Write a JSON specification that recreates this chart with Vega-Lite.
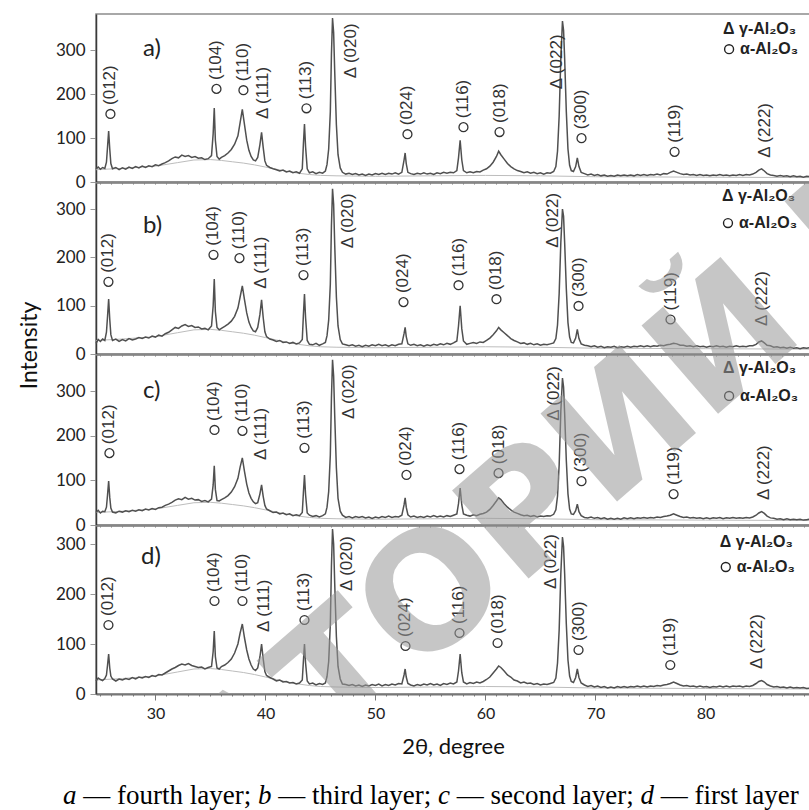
{
  "$schema": "https://vega.github.io/schema/vega-lite/v6.json",
  "padding": {"left": 17, "top": 13, "right": 0, "bottom": 0},
  "bounds": "flush",
  "spacing": 1,
  "config": {
    "view": {"stroke": "#8c8c8c", "strokeWidth": 1.5},
    "axis": {"grid": false, "labelFont": "Lato", "titleFont": "Lato", "labelColor": "#222", "titleColor": "#111", "titleFontWeight": "normal"},
    "axisY": {"domainColor": "#3a3a3a", "domainWidth": 1.5, "tickColor": "#999", "tickSize": 6, "labelPadding": 5, "labelFontSize": 17},
    "axisX": {"domainColor": "#777", "domainWidth": 2, "tickColor": "#777", "tickSize": 2, "labelFontSize": 16, "labelPadding": 5},
    "text": {"font": "Liberation Sans"}
  },
  "datasets": {
    "xrd": [
      {"x":24.6,"a":30,"b":22,"c":28,"d":26},{"x":24.8,"a":34,"b":30,"c":33,"d":32},{"x":25.0,"a":29,"b":26,"c":27,"d":29},
      {"x":25.2,"a":33,"b":31,"c":31,"d":27},{"x":25.4,"a":31,"b":28,"c":30,"d":31},{"x":25.55,"a":45,"b":45,"c":40,"d":38},
      {"x":25.65,"a":80,"b":78,"c":68,"d":58},{"x":25.75,"a":116,"b":114,"c":99,"d":80},{"x":25.85,"a":75,"b":72,"c":62,"d":52},
      {"x":25.95,"a":42,"b":40,"c":38,"d":36},{"x":26.1,"a":30,"b":28,"c":29,"d":30},{"x":26.4,"a":33,"b":31,"c":27,"d":26},
      {"x":26.7,"a":28,"b":26,"c":31,"d":30},{"x":27.0,"a":32,"b":30,"c":29,"d":28},{"x":27.3,"a":29,"b":27,"c":32,"d":31},
      {"x":27.6,"a":34,"b":32,"c":30,"d":29},{"x":27.9,"a":31,"b":29,"c":33,"d":33},{"x":28.2,"a":35,"b":31,"c":31,"d":30},
      {"x":28.5,"a":32,"b":34,"c":34,"d":34},{"x":28.8,"a":36,"b":32,"c":32,"d":32},{"x":29.1,"a":33,"b":35,"c":36,"d":35},
      {"x":29.4,"a":37,"b":33,"c":34,"d":33},{"x":29.7,"a":35,"b":37,"c":37,"d":37},{"x":30.0,"a":39,"b":35,"c":35,"d":35},
      {"x":30.3,"a":37,"b":39,"c":39,"d":39},{"x":30.6,"a":41,"b":37,"c":40,"d":38},{"x":30.9,"a":44,"b":42,"c":44,"d":42},
      {"x":31.2,"a":48,"b":45,"c":47,"d":46},{"x":31.5,"a":53,"b":50,"c":51,"d":50},{"x":31.8,"a":57,"b":55,"c":56,"d":53},
      {"x":32.1,"a":55,"b":53,"c":59,"d":57},{"x":32.4,"a":61,"b":58,"c":57,"d":60},{"x":32.7,"a":58,"b":61,"c":62,"d":58},
      {"x":33.0,"a":60,"b":57,"c":58,"d":61},{"x":33.3,"a":56,"b":59,"c":60,"d":57},{"x":33.6,"a":58,"b":55,"c":56,"d":55},
      {"x":33.9,"a":54,"b":56,"c":57,"d":53},{"x":34.2,"a":55,"b":52,"c":53,"d":54},{"x":34.5,"a":51,"b":53,"c":55,"d":50},
      {"x":34.8,"a":53,"b":50,"c":52,"d":53},{"x":35.1,"a":60,"b":58,"c":58,"d":55},{"x":35.25,"a":110,"b":100,"c":90,"d":85},
      {"x":35.35,"a":168,"b":155,"c":133,"d":126},{"x":35.45,"a":95,"b":88,"c":80,"d":75},{"x":35.6,"a":58,"b":55,"c":55,"d":52},
      {"x":35.8,"a":52,"b":50,"c":54,"d":50},{"x":36.0,"a":56,"b":53,"c":57,"d":55},{"x":36.3,"a":60,"b":57,"c":61,"d":58},
      {"x":36.6,"a":66,"b":62,"c":66,"d":63},{"x":36.9,"a":74,"b":68,"c":74,"d":70},{"x":37.2,"a":86,"b":78,"c":86,"d":82},
      {"x":37.5,"a":105,"b":95,"c":105,"d":100},{"x":37.7,"a":135,"b":118,"c":130,"d":122},{"x":37.9,"a":165,"b":141,"c":151,"d":140},
      {"x":38.1,"a":130,"b":112,"c":120,"d":112},{"x":38.3,"a":95,"b":85,"c":92,"d":88},{"x":38.5,"a":72,"b":66,"c":72,"d":70},
      {"x":38.7,"a":58,"b":55,"c":60,"d":58},{"x":38.9,"a":50,"b":48,"c":52,"d":50},{"x":39.1,"a":48,"b":46,"c":48,"d":47},
      {"x":39.3,"a":56,"b":55,"c":50,"d":52},{"x":39.5,"a":85,"b":82,"c":70,"d":74},{"x":39.65,"a":113,"b":112,"c":90,"d":100},
      {"x":39.8,"a":78,"b":75,"c":64,"d":70},{"x":39.95,"a":48,"b":46,"c":44,"d":45},{"x":40.1,"a":38,"b":36,"c":36,"d":37},
      {"x":40.4,"a":33,"b":31,"c":32,"d":33},{"x":40.7,"a":30,"b":29,"c":28,"d":30},{"x":41.0,"a":28,"b":26,"c":29,"d":26},
      {"x":41.3,"a":25,"b":28,"c":25,"d":28},{"x":41.6,"a":27,"b":24,"c":27,"d":24},{"x":41.9,"a":23,"b":25,"c":23,"d":25},
      {"x":42.2,"a":25,"b":22,"c":25,"d":22},{"x":42.5,"a":21,"b":24,"c":21,"d":23},{"x":42.8,"a":23,"b":21,"c":23,"d":20},
      {"x":43.1,"a":20,"b":23,"c":21,"d":22},{"x":43.35,"a":30,"b":30,"c":28,"d":28},{"x":43.45,"a":85,"b":80,"c":72,"d":65},
      {"x":43.55,"a":132,"b":124,"c":112,"d":100},{"x":43.65,"a":80,"b":75,"c":68,"d":62},{"x":43.8,"a":30,"b":28,"c":27,"d":26},
      {"x":44.0,"a":21,"b":20,"c":22,"d":20},{"x":44.3,"a":23,"b":19,"c":19,"d":22},{"x":44.6,"a":19,"b":22,"c":21,"d":18},
      {"x":44.9,"a":22,"b":18,"c":18,"d":21},{"x":45.2,"a":20,"b":21,"c":21,"d":19},{"x":45.45,"a":25,"b":24,"c":25,"d":22},
      {"x":45.6,"a":40,"b":38,"c":40,"d":35},{"x":45.75,"a":75,"b":70,"c":75,"d":65},{"x":45.9,"a":160,"b":145,"c":158,"d":140},
      {"x":46.0,"a":290,"b":265,"c":285,"d":255},{"x":46.1,"a":373,"b":342,"c":371,"d":330},{"x":46.2,"a":340,"b":310,"c":335,"d":300},
      {"x":46.3,"a":250,"b":225,"c":245,"d":220},{"x":46.45,"a":130,"b":118,"c":128,"d":115},{"x":46.6,"a":62,"b":58,"c":60,"d":55},
      {"x":46.8,"a":32,"b":30,"c":31,"d":30},{"x":47.0,"a":22,"b":21,"c":22,"d":20},{"x":47.3,"a":18,"b":19,"c":17,"d":19},
      {"x":47.6,"a":20,"b":17,"c":19,"d":17},{"x":47.9,"a":17,"b":19,"c":16,"d":19},{"x":48.2,"a":19,"b":16,"c":19,"d":16},
      {"x":48.5,"a":16,"b":18,"c":17,"d":18},{"x":48.8,"a":18,"b":15,"c":19,"d":15},{"x":49.1,"a":15,"b":18,"c":16,"d":18},
      {"x":49.4,"a":18,"b":16,"c":18,"d":16},{"x":49.7,"a":16,"b":19,"c":15,"d":19},{"x":50.0,"a":19,"b":17,"c":18,"d":17},
      {"x":50.3,"a":17,"b":20,"c":16,"d":20},{"x":50.6,"a":20,"b":17,"c":19,"d":16},{"x":50.9,"a":17,"b":19,"c":17,"d":19},
      {"x":51.2,"a":20,"b":16,"c":20,"d":17},{"x":51.5,"a":18,"b":19,"c":17,"d":20},{"x":51.8,"a":21,"b":17,"c":19,"d":18},
      {"x":52.1,"a":18,"b":20,"c":18,"d":21},{"x":52.4,"a":22,"b":21,"c":22,"d":20},{"x":52.6,"a":50,"b":42,"c":45,"d":38},
      {"x":52.7,"a":66,"b":55,"c":61,"d":50},{"x":52.8,"a":42,"b":36,"c":40,"d":34},{"x":52.95,"a":22,"b":21,"c":23,"d":21},
      {"x":53.2,"a":19,"b":18,"c":18,"d":18},{"x":53.5,"a":17,"b":20,"c":20,"d":16},{"x":53.8,"a":20,"b":17,"c":17,"d":19},
      {"x":54.1,"a":18,"b":19,"c":19,"d":17},{"x":54.4,"a":21,"b":16,"c":17,"d":20},{"x":54.7,"a":18,"b":19,"c":20,"d":18},
      {"x":55.0,"a":20,"b":17,"c":18,"d":21},{"x":55.3,"a":17,"b":20,"c":21,"d":18},{"x":55.6,"a":21,"b":18,"c":18,"d":20},
      {"x":55.9,"a":19,"b":21,"c":20,"d":17},{"x":56.2,"a":22,"b":19,"c":18,"d":21},{"x":56.5,"a":20,"b":22,"c":21,"d":19},
      {"x":56.8,"a":22,"b":20,"c":19,"d":22},{"x":57.1,"a":21,"b":23,"c":22,"d":20},{"x":57.4,"a":26,"b":27,"c":25,"d":24},
      {"x":57.55,"a":55,"b":58,"c":48,"d":46},{"x":57.7,"a":95,"b":100,"c":83,"d":80},{"x":57.85,"a":50,"b":52,"c":45,"d":42},
      {"x":58.0,"a":26,"b":27,"c":25,"d":24},{"x":58.3,"a":21,"b":20,"c":22,"d":20},{"x":58.6,"a":23,"b":22,"c":20,"d":23},
      {"x":58.9,"a":21,"b":24,"c":23,"d":21},{"x":59.2,"a":24,"b":22,"c":21,"d":24},{"x":59.5,"a":23,"b":25,"c":24,"d":22},
      {"x":59.8,"a":27,"b":24,"c":26,"d":25},{"x":60.1,"a":30,"b":28,"c":29,"d":29},{"x":60.4,"a":36,"b":33,"c":35,"d":34},
      {"x":60.7,"a":45,"b":40,"c":44,"d":42},{"x":61.0,"a":58,"b":48,"c":54,"d":50},{"x":61.2,"a":70,"b":55,"c":61,"d":56},
      {"x":61.4,"a":62,"b":50,"c":57,"d":53},{"x":61.7,"a":52,"b":44,"c":48,"d":46},{"x":62.0,"a":42,"b":38,"c":40,"d":38},
      {"x":62.3,"a":35,"b":32,"c":34,"d":34},{"x":62.6,"a":30,"b":28,"c":29,"d":28},{"x":62.9,"a":26,"b":25,"c":26,"d":26},
      {"x":63.2,"a":24,"b":22,"c":23,"d":22},{"x":63.5,"a":21,"b":23,"c":21,"d":24},{"x":63.8,"a":23,"b":20,"c":22,"d":21},
      {"x":64.1,"a":20,"b":22,"c":19,"d":22},{"x":64.4,"a":22,"b":19,"c":21,"d":19},{"x":64.7,"a":19,"b":21,"c":18,"d":21},
      {"x":65.0,"a":21,"b":18,"c":20,"d":18},{"x":65.3,"a":18,"b":20,"c":19,"d":20},{"x":65.6,"a":21,"b":19,"c":21,"d":19},
      {"x":65.9,"a":20,"b":21,"c":20,"d":21},{"x":66.2,"a":24,"b":23,"c":24,"d":23},{"x":66.4,"a":35,"b":32,"c":34,"d":32},
      {"x":66.55,"a":70,"b":60,"c":65,"d":62},{"x":66.7,"a":150,"b":125,"c":135,"d":128},{"x":66.85,"a":280,"b":230,"c":255,"d":240},
      {"x":67.0,"a":366,"b":300,"c":330,"d":314},{"x":67.1,"a":345,"b":285,"c":310,"d":295},{"x":67.2,"a":280,"b":230,"c":250,"d":240},
      {"x":67.35,"a":160,"b":135,"c":145,"d":140},{"x":67.5,"a":75,"b":65,"c":70,"d":68},{"x":67.65,"a":38,"b":35,"c":36,"d":36},
      {"x":67.8,"a":26,"b":24,"c":25,"d":25},{"x":68.0,"a":24,"b":23,"c":24,"d":23},{"x":68.2,"a":35,"b":33,"c":32,"d":33},
      {"x":68.35,"a":55,"b":51,"c":47,"d":50},{"x":68.5,"a":35,"b":32,"c":30,"d":33},{"x":68.7,"a":22,"b":21,"c":21,"d":22},
      {"x":69.0,"a":19,"b":18,"c":17,"d":18},{"x":69.3,"a":16,"b":17,"c":16,"d":15},{"x":69.6,"a":18,"b":15,"c":18,"d":17},
      {"x":69.9,"a":15,"b":17,"c":15,"d":14},{"x":70.2,"a":17,"b":14,"c":17,"d":16},{"x":70.5,"a":14,"b":16,"c":14,"d":13},
      {"x":70.8,"a":16,"b":13,"c":16,"d":15},{"x":71.1,"a":13,"b":15,"c":13,"d":12},{"x":71.4,"a":15,"b":14,"c":15,"d":14},
      {"x":71.7,"a":13,"b":16,"c":13,"d":12},{"x":72.0,"a":16,"b":13,"c":15,"d":15},{"x":72.3,"a":14,"b":15,"c":13,"d":13},
      {"x":72.6,"a":16,"b":14,"c":16,"d":15},{"x":72.9,"a":14,"b":16,"c":14,"d":13},{"x":73.2,"a":16,"b":14,"c":16,"d":15},
      {"x":73.5,"a":14,"b":16,"c":14,"d":14},{"x":73.8,"a":17,"b":15,"c":16,"d":16},{"x":74.1,"a":15,"b":17,"c":15,"d":14},
      {"x":74.4,"a":17,"b":15,"c":17,"d":16},{"x":74.7,"a":15,"b":17,"c":15,"d":14},{"x":75.0,"a":17,"b":15,"c":17,"d":16},
      {"x":75.3,"a":16,"b":17,"c":16,"d":15},{"x":75.6,"a":18,"b":16,"c":18,"d":17},{"x":75.9,"a":16,"b":18,"c":17,"d":16},
      {"x":76.2,"a":19,"b":17,"c":19,"d":18},{"x":76.5,"a":18,"b":19,"c":20,"d":19},{"x":76.8,"a":22,"b":20,"c":22,"d":21},
      {"x":77.1,"a":25,"b":22,"c":25,"d":24},{"x":77.4,"a":22,"b":21,"c":22,"d":21},{"x":77.7,"a":19,"b":18,"c":19,"d":18},
      {"x":78.0,"a":17,"b":18,"c":17,"d":16},{"x":78.3,"a":18,"b":16,"c":18,"d":17},{"x":78.6,"a":16,"b":17,"c":16,"d":15},
      {"x":78.9,"a":17,"b":15,"c":17,"d":16},{"x":79.2,"a":15,"b":17,"c":15,"d":14},{"x":79.5,"a":17,"b":15,"c":16,"d":16},
      {"x":79.8,"a":15,"b":16,"c":14,"d":14},{"x":80.1,"a":16,"b":14,"c":16,"d":15},{"x":80.4,"a":14,"b":16,"c":14,"d":13},
      {"x":80.7,"a":16,"b":15,"c":16,"d":15},{"x":81.0,"a":15,"b":17,"c":15,"d":14},{"x":81.3,"a":17,"b":15,"c":17,"d":16},
      {"x":81.6,"a":15,"b":16,"c":14,"d":14},{"x":81.9,"a":16,"b":14,"c":16,"d":16},{"x":82.2,"a":14,"b":16,"c":15,"d":14},
      {"x":82.5,"a":16,"b":15,"c":17,"d":16},{"x":82.8,"a":15,"b":17,"c":15,"d":15},{"x":83.1,"a":17,"b":15,"c":16,"d":16},
      {"x":83.4,"a":15,"b":16,"c":15,"d":14},{"x":83.7,"a":17,"b":15,"c":17,"d":16},{"x":84.0,"a":16,"b":17,"c":16,"d":15},
      {"x":84.3,"a":18,"b":17,"c":18,"d":17},{"x":84.6,"a":22,"b":20,"c":22,"d":21},{"x":84.85,"a":27,"b":25,"c":27,"d":25},
      {"x":85.1,"a":30,"b":27,"c":30,"d":27},{"x":85.35,"a":25,"b":23,"c":26,"d":24},{"x":85.6,"a":19,"b":18,"c":20,"d":19},
      {"x":85.9,"a":16,"b":17,"c":16,"d":16},{"x":86.2,"a":15,"b":14,"c":15,"d":14},{"x":86.5,"a":13,"b":15,"c":13,"d":15},
      {"x":86.8,"a":15,"b":13,"c":14,"d":13},{"x":87.1,"a":13,"b":14,"c":12,"d":14},{"x":87.4,"a":14,"b":12,"c":14,"d":12},
      {"x":87.7,"a":12,"b":14,"c":12,"d":14},{"x":88.0,"a":14,"b":12,"c":13,"d":12},{"x":88.3,"a":12,"b":13,"c":12,"d":13},
      {"x":88.6,"a":13,"b":11,"c":13,"d":12},{"x":88.9,"a":11,"b":13,"c":11,"d":13},{"x":89.2,"a":13,"b":12,"c":12,"d":11},
      {"x":89.5,"a":12,"b":13,"c":13,"d":12}
    ],
    "bg": [
      {"x":24.6,"y":28},{"x":27,"y":31},{"x":30,"y":36},{"x":32,"y":44},{"x":33.5,"y":50},{"x":35,"y":51},
      {"x":36,"y":49},{"x":37,"y":46},{"x":38,"y":43},{"x":39,"y":39},{"x":40,"y":34},{"x":41,"y":29},
      {"x":42,"y":24},{"x":43,"y":20},{"x":44,"y":17},{"x":45,"y":15},{"x":46.5,"y":14},{"x":50,"y":13},
      {"x":55,"y":14},{"x":60,"y":15},{"x":65,"y":14},{"x":70,"y":12},{"x":80,"y":11},{"x":89.5,"y":10}
    ],
    "peaks": [
      {"panel":"a","phase":"alpha","x":25.91,"y":141,"label":"(012)"},{"panel":"a","phase":"alpha","x":35.55,"y":198,"label":"(104)"},
      {"panel":"a","phase":"alpha","x":38.0,"y":195,"label":"(110)"},{"panel":"a","phase":"gamma","x":39.82,"y":143,"label":"Δ (111)"},
      {"panel":"a","phase":"alpha","x":43.73,"y":154,"label":"(113)"},{"panel":"a","phase":"gamma","x":47.82,"y":236,"label":"Δ (020)"},
      {"panel":"a","phase":"alpha","x":52.91,"y":95,"label":"(024)"},{"panel":"a","phase":"alpha","x":58.0,"y":111,"label":"(116)"},
      {"panel":"a","phase":"alpha","x":61.28,"y":100,"label":"(018)"},{"panel":"a","phase":"gamma","x":66.46,"y":211,"label":"Δ (022)"},
      {"panel":"a","phase":"alpha","x":68.73,"y":86,"label":"(300)"},{"panel":"a","phase":"alpha","x":77.19,"y":55,"label":"(119)"},
      {"panel":"a","phase":"gamma","x":85.37,"y":55,"label":"Δ (222)"},
      {"panel":"b","phase":"alpha","x":25.73,"y":137,"label":"(012)"},{"panel":"b","phase":"alpha","x":35.28,"y":193,"label":"(104)"},
      {"panel":"b","phase":"alpha","x":37.64,"y":186,"label":"(110)"},{"panel":"b","phase":"gamma","x":39.64,"y":135,"label":"Δ (111)"},
      {"panel":"b","phase":"alpha","x":43.46,"y":151,"label":"(113)"},{"panel":"b","phase":"gamma","x":47.55,"y":219,"label":"Δ (020)"},
      {"panel":"b","phase":"alpha","x":52.55,"y":95,"label":"(024)"},{"panel":"b","phase":"alpha","x":57.55,"y":130,"label":"(116)"},
      {"panel":"b","phase":"alpha","x":61.0,"y":101,"label":"(018)"},{"panel":"b","phase":"gamma","x":66.1,"y":220,"label":"Δ (022)"},
      {"panel":"b","phase":"alpha","x":68.46,"y":87,"label":"(300)"},{"panel":"b","phase":"alpha","x":76.82,"y":59,"label":"(119)"},
      {"panel":"b","phase":"gamma","x":85.1,"y":58,"label":"Δ (222)"},
      {"panel":"c","phase":"alpha","x":25.82,"y":148,"label":"(012)"},{"panel":"c","phase":"alpha","x":35.37,"y":200,"label":"(104)"},
      {"panel":"c","phase":"alpha","x":37.91,"y":198,"label":"(110)"},{"panel":"c","phase":"gamma","x":39.64,"y":146,"label":"Δ (111)"},
      {"panel":"c","phase":"alpha","x":43.55,"y":160,"label":"(113)"},{"panel":"c","phase":"gamma","x":47.64,"y":238,"label":"Δ (020)"},
      {"panel":"c","phase":"alpha","x":52.82,"y":99,"label":"(024)"},{"panel":"c","phase":"alpha","x":57.64,"y":112,"label":"(116)"},
      {"panel":"c","phase":"alpha","x":61.19,"y":103,"label":"(018)"},{"panel":"c","phase":"gamma","x":66.19,"y":234,"label":"Δ (022)"},
      {"panel":"c","phase":"alpha","x":68.73,"y":85,"label":"(300)"},{"panel":"c","phase":"alpha","x":77.1,"y":56,"label":"(119)"},
      {"panel":"c","phase":"gamma","x":85.28,"y":56,"label":"Δ (222)"},
      {"panel":"d","phase":"alpha","x":25.73,"y":126,"label":"(012)"},{"panel":"d","phase":"alpha","x":35.37,"y":174,"label":"(104)"},
      {"panel":"d","phase":"alpha","x":37.91,"y":174,"label":"(110)"},{"panel":"d","phase":"gamma","x":39.91,"y":124,"label":"Δ (111)"},
      {"panel":"d","phase":"alpha","x":43.55,"y":136,"label":"(113)"},{"panel":"d","phase":"gamma","x":47.37,"y":206,"label":"Δ (020)"},
      {"panel":"d","phase":"alpha","x":52.73,"y":84,"label":"(024)"},{"panel":"d","phase":"alpha","x":57.64,"y":110,"label":"(116)"},
      {"panel":"d","phase":"alpha","x":61.1,"y":90,"label":"(018)"},{"panel":"d","phase":"gamma","x":66.0,"y":210,"label":"Δ (022)"},
      {"panel":"d","phase":"alpha","x":68.46,"y":76,"label":"(300)"},{"panel":"d","phase":"alpha","x":76.8,"y":46,"label":"(119)"},
      {"panel":"d","phase":"gamma","x":84.64,"y":50,"label":"Δ (222)"}
    ],
    "legend": [
      {"panel":"a","phase":"gamma","x":81.6,"y":348,"text":"Δ γ-Al₂O₃"},{"panel":"a","phase":"alpha","x":81.6,"y":302,"text":"α-Al₂O₃"},
      {"panel":"b","phase":"gamma","x":81.5,"y":327,"text":"Δ γ-Al₂O₃"},{"panel":"b","phase":"alpha","x":81.5,"y":271,"text":"α-Al₂O₃"},
      {"panel":"c","phase":"gamma","x":81.6,"y":353,"text":"Δ γ-Al₂O₃"},{"panel":"c","phase":"alpha","x":81.6,"y":290,"text":"α-Al₂O₃"},
      {"panel":"d","phase":"gamma","x":81.3,"y":304,"text":"Δ γ-Al₂O₃"},{"panel":"d","phase":"alpha","x":81.3,"y":254,"text":"α-Al₂O₃"}
    ],
    "tags": [
      {"panel":"a","x":28.87,"y":302,"tag":"a)"},{"panel":"b","x":28.87,"y":265,"tag":"b)"},
      {"panel":"c","x":28.87,"y":301,"tag":"c)"},{"panel":"d","x":28.7,"y":274,"tag":"d)"}
    ],
    "watermark": [
      {"panel":"a","x":71.24,"y":-598,"t":"АТОРИЙ КА"},{"panel":"b","x":71.24,"y":-188,"t":"АТОРИЙ КА"},
      {"panel":"c","x":71.24,"y":180,"t":"АТОРИЙ КА"},{"panel":"d","x":71.24,"y":498,"t":"АТОРИЙ КА"}
    ],
    "captionLetters": [
      {"x":21.6,"y":-204,"t":"a"},{"x":39.33,"y":-204,"t":"b"},{"x":55.69,"y":-204,"t":"c"},{"x":74.1,"y":-204,"t":"d"}
    ],
    "captionWords": [
      {"x":23.44,"y":-204,"t":"— fourth layer;"},{"x":41.17,"y":-204,"t":"— third layer;"},
      {"x":57.4,"y":-204,"t":"— second layer;"},{"x":75.94,"y":-204,"t":"— first layer"}
    ]
  },
  "vconcat": [
    {
      "width": 714, "height": 168,
      "encoding": {
        "x": {"field": "x", "type": "quantitative", "scale": {"domain": [24.6, 89.5], "nice": false, "zero": false},
              "axis": {"values": [25,26,27,28,29,30,31,32,33,34,35,36,37,38,39,40,41,42,43,44,45,46,47,48,49,50,51,52,53,54,55,56,57,58,59,60,61,62,63,64,65,66,67,68,69,70,71,72,73,74,75,76,77,78,79,80,81,82,83,84,85,86,87,88,89], "labels": false, "title": null}},
        "y": {"field": "y", "type": "quantitative", "scale": {"domain": [0, 382], "nice": false}, "axis": {"values": [0,100,200,300], "title": null}}
      },
      "layer": [
        {"data": {"name": "bg"}, "mark": {"type": "line", "color": "#bdbdbd", "strokeWidth": 1}},
        {"data": {"name": "xrd"}, "transform": [{"fold": ["a"], "as": ["panel", "y"]}], "mark": {"type": "line", "color": "#505050", "strokeWidth": 1.5}},
        {"data": {"name": "peaks"}, "transform": [{"filter": "datum.panel == 'a' && datum.phase == 'gamma'"}], "mark": {"type": "text", "angle": 270, "align": "left", "baseline": "middle", "fontSize": 17, "color": "#333"}, "encoding": {"text": {"field": "label"}}},
        {"data": {"name": "peaks"}, "transform": [{"filter": "datum.panel == 'a' && datum.phase == 'alpha'"}], "mark": {"type": "text", "angle": 270, "align": "left", "baseline": "middle", "dx": 15, "fontSize": 17, "color": "#333"}, "encoding": {"text": {"field": "label"}}},
        {"data": {"name": "peaks"}, "transform": [{"filter": "datum.panel == 'a' && datum.phase == 'alpha'"}], "mark": {"type": "point", "shape": "circle", "filled": false, "size": 80, "strokeWidth": 1.3, "color": "#333", "yOffset": -6, "opacity": 1}},
        {"data": {"name": "legend"}, "transform": [{"filter": "datum.panel == 'a' && datum.phase == 'gamma'"}], "mark": {"type": "text", "align": "left", "baseline": "middle", "fontSize": 16, "fontWeight": "bold", "color": "#222"}, "encoding": {"text": {"field": "text"}}},
        {"data": {"name": "legend"}, "transform": [{"filter": "datum.panel == 'a' && datum.phase == 'alpha'"}], "mark": {"type": "text", "align": "left", "baseline": "middle", "dx": 17, "fontSize": 16, "fontWeight": "bold", "color": "#222"}, "encoding": {"text": {"field": "text"}}},
        {"data": {"name": "legend"}, "transform": [{"filter": "datum.panel == 'a' && datum.phase == 'alpha'"}], "mark": {"type": "point", "shape": "circle", "filled": false, "size": 80, "strokeWidth": 1.4, "color": "#222", "xOffset": 6, "opacity": 1}},
        {"data": {"name": "tags"}, "transform": [{"filter": "datum.panel == 'a'"}], "mark": {"type": "text", "align": "left", "baseline": "middle", "fontSize": 24, "font": "Lato", "color": "#222"}, "encoding": {"text": {"field": "tag"}}},
        {"data": {"name": "watermark"}, "transform": [{"filter": "datum.panel == 'a'"}], "mark": {"type": "text", "clip": true, "angle": -41, "align": "center", "baseline": "middle", "fontSize": 160, "font": "DejaVu Sans", "fontWeight": "bold", "color": "#999", "opacity": 0.55}, "encoding": {"text": {"field": "t"}}}
      ]
    },
    {
      "width": 714, "height": 171,
      "encoding": {
        "x": {"field": "x", "type": "quantitative", "scale": {"domain": [24.6, 89.5], "nice": false, "zero": false},
              "axis": {"values": [25,26,27,28,29,30,31,32,33,34,35,36,37,38,39,40,41,42,43,44,45,46,47,48,49,50,51,52,53,54,55,56,57,58,59,60,61,62,63,64,65,66,67,68,69,70,71,72,73,74,75,76,77,78,79,80,81,82,83,84,85,86,87,88,89], "labels": false, "title": null}},
        "y": {"field": "y", "type": "quantitative", "scale": {"domain": [0, 354], "nice": false},
              "axis": {"values": [0,100,200,300], "title": "Intensity", "titleFontSize": 23, "titleAngle": 270, "titleX": -67, "titleY": 162, "titleAlign": "center", "titleBaseline": "middle"}}
      },
      "layer": [
        {"data": {"name": "bg"}, "mark": {"type": "line", "color": "#bdbdbd", "strokeWidth": 1}},
        {"data": {"name": "xrd"}, "transform": [{"fold": ["b"], "as": ["panel", "y"]}], "mark": {"type": "line", "color": "#505050", "strokeWidth": 1.5}},
        {"data": {"name": "peaks"}, "transform": [{"filter": "datum.panel == 'b' && datum.phase == 'gamma'"}], "mark": {"type": "text", "angle": 270, "align": "left", "baseline": "middle", "fontSize": 17, "color": "#333"}, "encoding": {"text": {"field": "label"}}},
        {"data": {"name": "peaks"}, "transform": [{"filter": "datum.panel == 'b' && datum.phase == 'alpha'"}], "mark": {"type": "text", "angle": 270, "align": "left", "baseline": "middle", "dx": 15, "fontSize": 17, "color": "#333"}, "encoding": {"text": {"field": "label"}}},
        {"data": {"name": "peaks"}, "transform": [{"filter": "datum.panel == 'b' && datum.phase == 'alpha'"}], "mark": {"type": "point", "shape": "circle", "filled": false, "size": 80, "strokeWidth": 1.3, "color": "#333", "yOffset": -6, "opacity": 1}},
        {"data": {"name": "legend"}, "transform": [{"filter": "datum.panel == 'b' && datum.phase == 'gamma'"}], "mark": {"type": "text", "align": "left", "baseline": "middle", "fontSize": 16, "fontWeight": "bold", "color": "#222"}, "encoding": {"text": {"field": "text"}}},
        {"data": {"name": "legend"}, "transform": [{"filter": "datum.panel == 'b' && datum.phase == 'alpha'"}], "mark": {"type": "text", "align": "left", "baseline": "middle", "dx": 17, "fontSize": 16, "fontWeight": "bold", "color": "#222"}, "encoding": {"text": {"field": "text"}}},
        {"data": {"name": "legend"}, "transform": [{"filter": "datum.panel == 'b' && datum.phase == 'alpha'"}], "mark": {"type": "point", "shape": "circle", "filled": false, "size": 80, "strokeWidth": 1.4, "color": "#222", "xOffset": 6, "opacity": 1}},
        {"data": {"name": "tags"}, "transform": [{"filter": "datum.panel == 'b'"}], "mark": {"type": "text", "align": "left", "baseline": "middle", "fontSize": 24, "font": "Lato", "color": "#222"}, "encoding": {"text": {"field": "tag"}}},
        {"data": {"name": "watermark"}, "transform": [{"filter": "datum.panel == 'b'"}], "mark": {"type": "text", "clip": true, "angle": -41, "align": "center", "baseline": "middle", "fontSize": 160, "font": "DejaVu Sans", "fontWeight": "bold", "color": "#999", "opacity": 0.55}, "encoding": {"text": {"field": "t"}}}
      ]
    },
    {
      "width": 714, "height": 170,
      "encoding": {
        "x": {"field": "x", "type": "quantitative", "scale": {"domain": [24.6, 89.5], "nice": false, "zero": false},
              "axis": {"values": [25,26,27,28,29,30,31,32,33,34,35,36,37,38,39,40,41,42,43,44,45,46,47,48,49,50,51,52,53,54,55,56,57,58,59,60,61,62,63,64,65,66,67,68,69,70,71,72,73,74,75,76,77,78,79,80,81,82,83,84,85,86,87,88,89], "labels": false, "title": null}},
        "y": {"field": "y", "type": "quantitative", "scale": {"domain": [0, 382], "nice": false}, "axis": {"values": [0,100,200,300], "title": null}}
      },
      "layer": [
        {"data": {"name": "bg"}, "mark": {"type": "line", "color": "#bdbdbd", "strokeWidth": 1}},
        {"data": {"name": "xrd"}, "transform": [{"fold": ["c"], "as": ["panel", "y"]}], "mark": {"type": "line", "color": "#505050", "strokeWidth": 1.5}},
        {"data": {"name": "peaks"}, "transform": [{"filter": "datum.panel == 'c' && datum.phase == 'gamma'"}], "mark": {"type": "text", "angle": 270, "align": "left", "baseline": "middle", "fontSize": 17, "color": "#333"}, "encoding": {"text": {"field": "label"}}},
        {"data": {"name": "peaks"}, "transform": [{"filter": "datum.panel == 'c' && datum.phase == 'alpha'"}], "mark": {"type": "text", "angle": 270, "align": "left", "baseline": "middle", "dx": 15, "fontSize": 17, "color": "#333"}, "encoding": {"text": {"field": "label"}}},
        {"data": {"name": "peaks"}, "transform": [{"filter": "datum.panel == 'c' && datum.phase == 'alpha'"}], "mark": {"type": "point", "shape": "circle", "filled": false, "size": 80, "strokeWidth": 1.3, "color": "#333", "yOffset": -6, "opacity": 1}},
        {"data": {"name": "legend"}, "transform": [{"filter": "datum.panel == 'c' && datum.phase == 'gamma'"}], "mark": {"type": "text", "align": "left", "baseline": "middle", "fontSize": 16, "fontWeight": "bold", "color": "#222"}, "encoding": {"text": {"field": "text"}}},
        {"data": {"name": "legend"}, "transform": [{"filter": "datum.panel == 'c' && datum.phase == 'alpha'"}], "mark": {"type": "text", "align": "left", "baseline": "middle", "dx": 17, "fontSize": 16, "fontWeight": "bold", "color": "#222"}, "encoding": {"text": {"field": "text"}}},
        {"data": {"name": "legend"}, "transform": [{"filter": "datum.panel == 'c' && datum.phase == 'alpha'"}], "mark": {"type": "point", "shape": "circle", "filled": false, "size": 80, "strokeWidth": 1.4, "color": "#222", "xOffset": 6, "opacity": 1}},
        {"data": {"name": "tags"}, "transform": [{"filter": "datum.panel == 'c'"}], "mark": {"type": "text", "align": "left", "baseline": "middle", "fontSize": 24, "font": "Lato", "color": "#222"}, "encoding": {"text": {"field": "tag"}}},
        {"data": {"name": "watermark"}, "transform": [{"filter": "datum.panel == 'c'"}], "mark": {"type": "text", "clip": true, "angle": -41, "align": "center", "baseline": "middle", "fontSize": 160, "font": "DejaVu Sans", "fontWeight": "bold", "color": "#999", "opacity": 0.55}, "encoding": {"text": {"field": "t"}}}
      ]
    },
    {
      "width": 714, "height": 168,
      "encoding": {
        "x": {"field": "x", "type": "quantitative", "scale": {"domain": [24.6, 89.5], "nice": false, "zero": false},
              "axis": {"values": [25,26,27,28,29,30,31,32,33,34,35,36,37,38,39,40,41,42,43,44,45,46,47,48,49,50,51,52,53,54,55,56,57,58,59,60,61,62,63,64,65,66,67,68,69,70,71,72,73,74,75,76,77,78,79,80,81,82,83,84,85,86,87,88,89],
                       "labelExpr": "datum.value % 10 === 0 ? datum.label : ''",
                       "tickSize": {"condition": {"test": "datum.value % 10 === 0", "value": 6}, "value": 2},
                       "title": "2θ, degree", "titleFontSize": 22, "titlePadding": 15}},
        "y": {"field": "y", "type": "quantitative", "scale": {"domain": [0, 336], "nice": false}, "axis": {"values": [0,100,200,300], "title": null}}
      },
      "layer": [
        {"data": {"name": "bg"}, "mark": {"type": "line", "color": "#bdbdbd", "strokeWidth": 1}},
        {"data": {"name": "xrd"}, "transform": [{"fold": ["d"], "as": ["panel", "y"]}], "mark": {"type": "line", "color": "#505050", "strokeWidth": 1.5}},
        {"data": {"name": "peaks"}, "transform": [{"filter": "datum.panel == 'd' && datum.phase == 'gamma'"}], "mark": {"type": "text", "angle": 270, "align": "left", "baseline": "middle", "fontSize": 17, "color": "#333"}, "encoding": {"text": {"field": "label"}}},
        {"data": {"name": "peaks"}, "transform": [{"filter": "datum.panel == 'd' && datum.phase == 'alpha'"}], "mark": {"type": "text", "angle": 270, "align": "left", "baseline": "middle", "dx": 15, "fontSize": 17, "color": "#333"}, "encoding": {"text": {"field": "label"}}},
        {"data": {"name": "peaks"}, "transform": [{"filter": "datum.panel == 'd' && datum.phase == 'alpha'"}], "mark": {"type": "point", "shape": "circle", "filled": false, "size": 80, "strokeWidth": 1.3, "color": "#333", "yOffset": -6, "opacity": 1}},
        {"data": {"name": "legend"}, "transform": [{"filter": "datum.panel == 'd' && datum.phase == 'gamma'"}], "mark": {"type": "text", "align": "left", "baseline": "middle", "fontSize": 16, "fontWeight": "bold", "color": "#222"}, "encoding": {"text": {"field": "text"}}},
        {"data": {"name": "legend"}, "transform": [{"filter": "datum.panel == 'd' && datum.phase == 'alpha'"}], "mark": {"type": "text", "align": "left", "baseline": "middle", "dx": 17, "fontSize": 16, "fontWeight": "bold", "color": "#222"}, "encoding": {"text": {"field": "text"}}},
        {"data": {"name": "legend"}, "transform": [{"filter": "datum.panel == 'd' && datum.phase == 'alpha'"}], "mark": {"type": "point", "shape": "circle", "filled": false, "size": 80, "strokeWidth": 1.4, "color": "#222", "xOffset": 6, "opacity": 1}},
        {"data": {"name": "tags"}, "transform": [{"filter": "datum.panel == 'd'"}], "mark": {"type": "text", "align": "left", "baseline": "middle", "fontSize": 24, "font": "Lato", "color": "#222"}, "encoding": {"text": {"field": "tag"}}},
        {"data": {"name": "captionLetters"}, "mark": {"type": "text", "align": "left", "baseline": "middle", "fontSize": 27, "font": "Liberation Serif", "fontStyle": "italic", "color": "#000"}, "encoding": {"text": {"field": "t"}}},
        {"data": {"name": "captionWords"}, "mark": {"type": "text", "align": "left", "baseline": "middle", "fontSize": 27, "font": "Liberation Serif", "color": "#000"}, "encoding": {"text": {"field": "t"}}},
        {"data": {"name": "watermark"}, "transform": [{"filter": "datum.panel == 'd'"}], "mark": {"type": "text", "clip": true, "angle": -41, "align": "center", "baseline": "middle", "fontSize": 160, "font": "DejaVu Sans", "fontWeight": "bold", "color": "#999", "opacity": 0.55}, "encoding": {"text": {"field": "t"}}}
      ]
    }
  ]
}
